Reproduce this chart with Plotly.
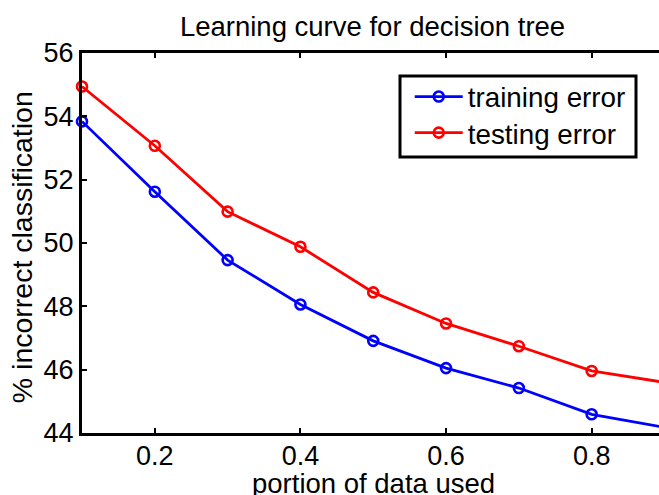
import plotly.graph_objects as go

# portion of the data used for training
portion = [0.1, 0.2, 0.3, 0.4, 0.5, 0.6, 0.7, 0.8, 0.9]

# % incorrect classification
training_error = [53.84, 51.62, 49.46, 48.06, 46.91, 46.05, 45.42, 44.59, 44.18]
testing_error = [54.94, 53.07, 50.99, 49.88, 48.44, 47.46, 46.74, 45.96, 45.60]

x_ticks = [0.2, 0.4, 0.6, 0.8]
y_ticks = [44, 46, 48, 50, 52, 54, 56]

FONT = "Liberation Sans, Arial, Helvetica, sans-serif"

fig = go.Figure()
for name, values, color, leg in [
    ("training error", training_error, "#0000ff", "legend"),
    ("testing error", testing_error, "#ff0000", "legend2"),
]:
    fig.add_trace(go.Scatter(
        x=portion, y=values, name=name, legend=leg,
        mode="lines+markers",
        line=dict(color=color, width=2.8),
        marker=dict(symbol="circle-open", size=10, color=color,
                    line=dict(color=color, width=2.6)),
        cliponaxis=False,
    ))

legend_style = dict(bgcolor="rgba(0,0,0,0)", borderwidth=0, itemwidth=48,
                    xanchor="left", yanchor="top",
                    font=dict(family=FONT, size=27.8, color="black"))

fig.update_layout(
    width=659, height=495,
    margin=dict(l=82, r=0, t=53, b=62),
    paper_bgcolor="white", plot_bgcolor="white",
    font=dict(family=FONT, size=27, color="black"),
    title=dict(text="Learning curve for decision tree",
               x=0.5035, xref="paper", xanchor="center",
               y=1 - 26 / 495, yref="container", yanchor="middle",
               font=dict(family=FONT, size=27.5, color="black")),
    legend=dict(x=0.568, y=0.95, **legend_style),
    legend2=dict(x=0.568, y=0.855, **legend_style),
    showlegend=True,
)

# legend frame
fig.add_shape(type="rect", xref="paper", yref="paper",
              x0=(400 - 82) / 577, x1=(636 - 82) / 577,
              y0=1 - (157 - 53) / 380, y1=1 - (76 - 53) / 380,
              line=dict(color="black", width=3), fillcolor="white", layer="above")

fig.update_xaxes(
    range=[0.1, 0.8925], tickvals=x_ticks, ticktext=[f"{v:.1f}" for v in x_ticks],
    showgrid=False, zeroline=False,
    showline=True, linecolor="black", linewidth=3, mirror="ticks",
    ticks="inside", ticklen=5, tickwidth=2, tickcolor="black",
    ticklabelstandoff=-3,
    tickfont=dict(family=FONT, size=27, color="black"),
)
fig.update_yaxes(
    range=[44, 56], tickvals=y_ticks, ticktext=[str(v) for v in y_ticks],
    showgrid=False, zeroline=False,
    showline=True, linecolor="black", linewidth=3, mirror=False,
    ticks="inside", ticklen=5, tickwidth=2, tickcolor="black",
    tickfont=dict(family=FONT, size=27, color="black"),
)

fig.add_annotation(text="portion of data used", xref="paper", yref="paper",
                   x=0.505, y=-0.132, xanchor="center", yanchor="middle",
                   showarrow=False, font=dict(family=FONT, size=27.5, color="black"))
fig.add_annotation(text="% incorrect classification", xref="paper", yref="paper",
                   x=-0.105, y=0.49, xanchor="center", yanchor="middle", textangle=-90,
                   showarrow=False, font=dict(family=FONT, size=28.5, color="black"))

fig.write_html("out.html")
